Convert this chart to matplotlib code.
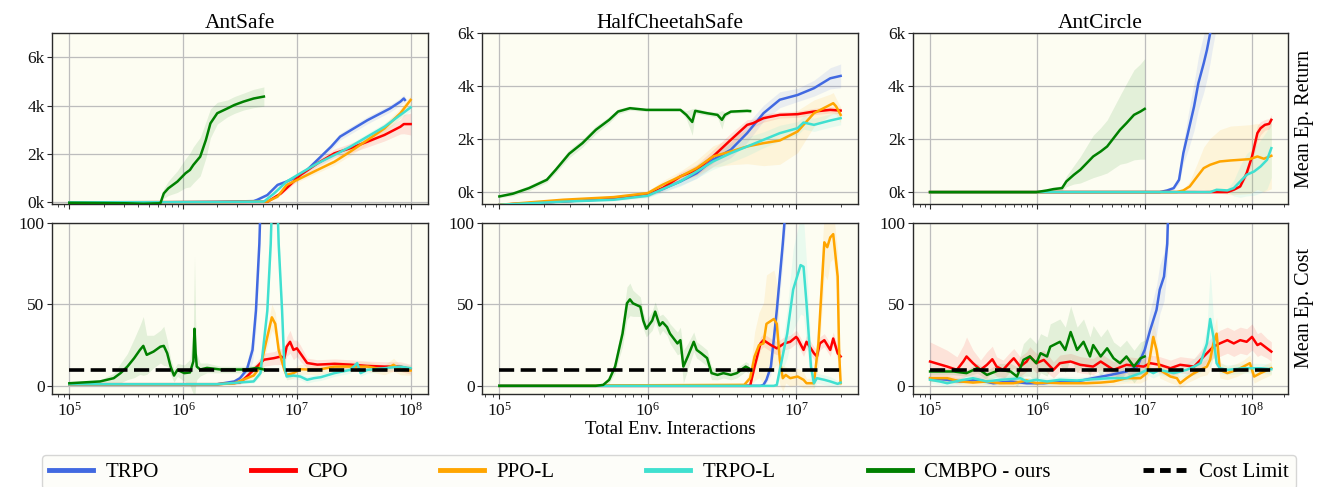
import sys
import numpy as np
import matplotlib
matplotlib.use("Agg")
import matplotlib.pyplot as plt
from matplotlib.ticker import FixedLocator, FuncFormatter, NullFormatter
from matplotlib.lines import Line2D

# ---------------- data (x given as log10 of env. interactions) ----------------
envs = ["AntSafe", "HalfCheetahSafe", "AntCircle"]
methods = ["TRPO", "CPO", "PPO-L", "TRPO-L", "CMBPO - ours"]
cost_limit = 10
x_end = [8.0, 7.3, 8.18]

# AntSafe - return
as_ret_trpo_lx = [5.0, 5.8, 6.3, 6.62, 6.65, 6.74, 6.83, 6.91, 7.0, 7.09, 7.21, 7.3, 7.38, 7.5, 7.62, 7.71, 7.82, 7.91, 7.94, 7.95]
as_ret_trpo_y = [0, 0, 20, 50, 100, 300, 720, 860, 1060, 1340, 1890, 2300, 2720, 3060, 3400, 3620, 3890, 4170, 4300, 4240]
as_ret_trpo_sd = [0, 0, 10, 20, 30, 50, 80, 90, 100, 110, 120, 130, 140, 150, 150, 150, 150, 150, 150, 150]
as_ret_cpo_lx = [5.0, 6.3, 6.74, 6.86, 6.94, 7.03, 7.18, 7.33, 7.47, 7.62, 7.77, 7.91, 7.94, 8.0]
as_ret_cpo_y = [0, 10, 20, 370, 720, 1130, 1610, 2030, 2240, 2510, 2790, 3130, 3240, 3240]
as_ret_cpo_sd = [0, 5, 10, 60, 100, 120, 150, 180, 200, 220, 250, 300, 400, 450]
as_ret_ppol_lx = [5.0, 6.3, 6.74, 6.83, 6.91, 7.03, 7.18, 7.33, 7.47, 7.62, 7.77, 7.91, 8.0]
as_ret_ppol_y = [0, 10, 30, 235, 720, 990, 1340, 1680, 2100, 2580, 3060, 3690, 4240]
as_ret_ppol_sd = [0, 5, 10, 50, 80, 100, 120, 140, 160, 180, 200, 200, 200]
as_ret_trpol_lx = [5.0, 6.3, 6.71, 6.8, 6.91, 7.03, 7.18, 7.33, 7.47, 7.62, 7.77, 7.91, 8.0]
as_ret_trpol_y = [0, 10, 30, 370, 860, 1200, 1610, 1960, 2300, 2720, 3130, 3620, 3930]
as_ret_trpol_sd = [0, 5, 10, 50, 80, 100, 110, 120, 130, 140, 150, 150, 150]
as_ret_cmbpo_lx = [5.0, 5.3, 5.5, 5.65, 5.8, 5.83, 5.87, 5.95, 6.02, 6.06, 6.09, 6.15, 6.2, 6.24, 6.3, 6.39, 6.45, 6.53, 6.62, 6.71]
as_ret_cmbpo_y = [-20, -30, -40, -60, -40, 370, 580, 860, 1200, 1340, 1550, 1890, 2580, 3270, 3690, 3890, 4030, 4170, 4300, 4380]
as_ret_cmbpo_sd = [0, 0, 0, 0, 40, 200, 300, 450, 600, 700, 750, 800, 750, 600, 450, 350, 350, 350, 380, 400]

# AntSafe - cost
as_cost_trpo_lx = [5.0, 6.3, 6.45, 6.5, 6.56, 6.61, 6.64, 6.67, 6.68, 6.7, 7.95]
as_cost_trpo_y = [1, 1, 2.7, 4.7, 9.8, 22, 46, 87, 110, 150, 150]
as_cost_trpo_sd = [0, 0.3, 1, 2, 4, 8, 12, 15, 15, 15, 15]
as_cost_cpo_lx = [5.0, 6.3, 6.5, 6.56, 6.65, 6.71, 6.8, 6.86, 6.89, 6.91, 6.94, 6.97, 7.0, 7.03, 7.06, 7.09, 7.18, 7.33, 7.47, 7.62, 7.77, 7.91, 8.0]
as_cost_cpo_y = [1, 1, 2, 5.7, 11.8, 16, 17, 18, 17, 24, 27, 22, 23, 20, 17, 14, 13, 13.5, 13, 12.2, 11.8, 11.8, 10.2]
as_cost_cpo_sd = [0, 0.3, 1, 2, 3, 4, 4, 5, 5, 6, 7, 6, 5, 5, 4, 3, 3, 3, 3, 3, 3, 3, 3]
as_cost_ppol_lx = [5.0, 6.3, 6.45, 6.56, 6.62, 6.68, 6.74, 6.78, 6.81, 6.84, 6.89, 6.91, 6.97, 7.03, 7.18, 7.33, 7.47, 7.62, 7.77, 7.85, 7.91, 8.0]
as_cost_ppol_y = [1, 1, 1.5, 4.7, 6.3, 11.8, 30, 42, 38, 22, 9.8, 6.7, 7.8, 10.2, 9.8, 11.8, 11.8, 11.8, 9.8, 12.9, 9.8, 9.4]
as_cost_ppol_sd = [0, 0.3, 1, 2, 3, 5, 6, 8, 7, 5, 3, 3, 3, 3, 3, 3, 3, 3, 3, 4, 3, 3]
as_cost_trpol_lx = [5.0, 6.3, 6.62, 6.68, 6.74, 6.77, 6.78, 6.83, 6.84, 6.87, 6.89, 6.91, 6.97, 7.03, 7.09, 7.15, 7.21, 7.33, 7.47, 7.53, 7.56, 7.62, 7.77, 7.91, 8.0]
as_cost_trpol_y = [1, 1, 2.7, 7.8, 46, 87, 110, 110, 87, 46, 11.8, 5.7, 6.3, 5.7, 3.7, 4.7, 5.3, 7.8, 9.8, 13.9, 7.8, 9.8, 10.8, 11.8, 10.8]
as_cost_trpol_sd = [0, 0.3, 1, 2, 5, 8, 8, 8, 8, 5, 3, 2, 2, 2, 2, 2, 2, 2, 2, 2, 2, 2, 2, 2, 2]
as_cost_cmbpo_lx = [5.0, 5.27, 5.39, 5.45, 5.51, 5.57, 5.62, 5.65, 5.68, 5.74, 5.8, 5.83, 5.86, 5.89, 5.92, 5.95, 6.01, 6.06, 6.09, 6.1, 6.11, 6.12, 6.15, 6.21, 6.33, 6.45, 6.56, 6.65, 6.71]
as_cost_cmbpo_y = [1.6, 2.7, 4.7, 7.8, 11.8, 17, 22, 24.5, 19, 21, 24, 24.5, 20, 11.8, 6.3, 9.8, 7.8, 8.2, 15, 35, 20, 11.8, 10, 11, 10, 10, 10, 11, 10]
as_cost_cmbpo_sd = [0.5, 1, 3, 6, 8, 12, 15, 18, 12, 10, 10, 12, 8, 5, 4, 4, 5, 8, 20, 45, 20, 8, 4, 3, 2, 2, 2, 2, 2]

# HalfCheetahSafe - return
hc_ret_trpo_lx = [5.0, 5.43, 5.77, 6.0, 6.1, 6.22, 6.33, 6.44, 6.56, 6.67, 6.78, 6.89, 7.01, 7.12, 7.23, 7.3]
hc_ret_trpo_y = [-480, -350, -260, -100, 113, 403, 717, 1220, 1600, 2230, 2980, 3490, 3670, 3925, 4300, 4390]
hc_ret_trpo_sd = [20, 30, 50, 80, 100, 150, 200, 250, 300, 350, 300, 300, 250, 300, 400, 450]
hc_ret_cpo_lx = [5.0, 5.43, 5.77, 6.0, 6.1, 6.22, 6.33, 6.44, 6.56, 6.67, 6.71, 6.78, 6.89, 7.01, 7.12, 7.23, 7.3]
hc_ret_cpo_y = [-480, -350, -240, -100, 151, 591, 843, 1346, 1975, 2541, 2604, 2793, 2918, 2944, 3044, 3107, 3080]
hc_ret_cpo_sd = [20, 30, 50, 80, 100, 150, 200, 250, 250, 200, 150, 150, 120, 120, 120, 120, 120]
hc_ret_ppol_lx = [5.0, 5.43, 5.77, 6.0, 6.1, 6.22, 6.33, 6.44, 6.56, 6.67, 6.78, 6.89, 7.01, 7.12, 7.23, 7.25, 7.27, 7.3]
hc_ret_ppol_y = [-480, -289, -189, -38, 277, 591, 906, 1346, 1535, 1723, 1849, 1950, 2290, 2981, 3300, 3359, 3233, 2918]
hc_ret_ppol_sd = [20, 30, 50, 80, 150, 200, 300, 400, 500, 650, 850, 900, 800, 500, 400, 400, 300, 300]
hc_ret_trpol_lx = [5.0, 5.43, 5.77, 6.0, 6.1, 6.22, 6.33, 6.44, 6.56, 6.67, 6.78, 6.89, 7.01, 7.05, 7.12, 7.23, 7.3]
hc_ret_trpol_y = [-480, -360, -290, -138, 113, 403, 780, 1157, 1472, 1723, 1975, 2227, 2415, 2629, 2541, 2705, 2793]
hc_ret_trpol_sd = [20, 30, 50, 80, 120, 180, 250, 300, 350, 350, 300, 300, 250, 250, 250, 250, 250]
hc_ret_cmbpo_lx = [5.0, 5.09, 5.2, 5.32, 5.38, 5.47, 5.56, 5.65, 5.74, 5.8, 5.88, 5.99, 6.1, 6.22, 6.26, 6.3, 6.32, 6.4, 6.47, 6.5, 6.52, 6.56, 6.67, 6.69]
hc_ret_cmbpo_y = [-164, -63, 151, 465, 843, 1447, 1849, 2352, 2730, 3044, 3170, 3107, 3107, 3107, 2918, 2650, 3070, 2981, 2918, 2730, 2918, 3040, 3070, 3060]
hc_ret_cmbpo_sd = [50, 80, 100, 100, 120, 150, 150, 150, 120, 100, 80, 60, 60, 60, 150, 500, 100, 80, 100, 350, 100, 60, 60, 60]

# HalfCheetahSafe - cost
hc_cost_trpo_lx = [5.0, 6.76, 6.78, 6.8, 6.83, 6.87, 6.91, 6.93, 6.96, 7.3]
hc_cost_trpo_y = [0, 0, 0.6, 3.7, 11.8, 46.5, 87, 110, 150, 150]
hc_cost_trpo_sd = [0, 0, 0.5, 2, 5, 10, 12, 12, 12, 12]
hc_cost_cpo_lx = [5.0, 6.69, 6.72, 6.76, 6.78, 6.83, 6.87, 6.92, 6.96, 7.0, 7.01, 7.05, 7.07, 7.12, 7.14, 7.16, 7.19, 7.23, 7.25, 7.28, 7.3]
hc_cost_cpo_y = [0, 0, 11.8, 26, 28, 25, 23, 26, 27, 30, 29, 22, 27, 20, 18, 26, 28, 22, 29, 20, 18]
hc_cost_cpo_sd = [0, 0, 3, 4, 4, 4, 4, 4, 4, 4, 4, 4, 4, 4, 4, 4, 4, 4, 4, 4, 4]
hc_cost_ppol_lx = [5.0, 6.65, 6.69, 6.72, 6.75, 6.78, 6.8, 6.85, 6.87, 6.89, 6.91, 6.93, 6.96, 7.01, 7.05, 7.07, 7.12, 7.15, 7.19, 7.21, 7.23, 7.25, 7.28, 7.29, 7.3]
hc_cost_ppol_y = [0, 0.6, 4.7, 18, 25, 26, 38, 41, 38, 16, 4.7, 6.7, 4.7, 5.7, 3.7, 1.6, 1.6, 26, 88, 85, 91, 93, 67, 20, 1.6]
hc_cost_ppol_sd = [0, 1, 5, 15, 20, 25, 30, 30, 25, 15, 8, 5, 5, 5, 5, 3, 3, 15, 20, 20, 15, 15, 15, 10, 5]
hc_cost_trpol_lx = [5.0, 6.85, 6.87, 6.89, 6.94, 6.98, 7.03, 7.05, 7.07, 7.1, 7.12, 7.14, 7.19, 7.23, 7.28, 7.3]
hc_cost_trpol_y = [0, 0, 0.6, 9.8, 32, 59, 74, 73, 50.6, 11.8, 1.6, 4.7, 3.7, 2.7, 1.2, 2]
hc_cost_trpol_sd = [0, 0, 1, 5, 15, 25, 30, 30, 25, 10, 3, 3, 3, 3, 2, 2]
hc_cost_cmbpo_lx = [5.0, 5.65, 5.7, 5.74, 5.78, 5.81, 5.83, 5.86, 5.88, 5.9, 5.95, 5.97, 5.99, 6.03, 6.05, 6.08, 6.1, 6.13, 6.15, 6.2, 6.22, 6.24, 6.27, 6.31, 6.33, 6.36, 6.4, 6.43, 6.47, 6.51, 6.56, 6.6, 6.66, 6.68]
hc_cost_cmbpo_y = [0, 0, 0.6, 3.7, 11.8, 24, 32, 50.6, 53, 50.6, 48.5, 40, 35, 40, 45.5, 37, 39, 36, 32, 26, 28, 11.8, 18, 27, 22, 20, 17, 7.8, 6.7, 7.8, 6.7, 7.8, 11.8, 10.8]
hc_cost_cmbpo_sd = [0, 0, 0.5, 2, 4, 6, 8, 10, 10, 8, 6, 5, 5, 6, 6, 6, 5, 5, 6, 7, 8, 10, 8, 6, 5, 5, 5, 4, 3, 3, 3, 3, 3, 3]

# AntCircle - return
ac_ret_trpo_lx = [5.0, 7.14, 7.21, 7.27, 7.32, 7.36, 7.41, 7.46, 7.5, 7.55, 7.58, 7.61, 7.63, 7.7]
ac_ret_trpo_y = [0, 0, 63, 151, 465, 1472, 2352, 3233, 4114, 4868, 5372, 6000, 6500, 8000]
ac_ret_trpo_sd = [0, 0, 30, 60, 150, 400, 700, 900, 1000, 1100, 1100, 1100, 1100, 1100]
ac_ret_cpo_lx = [5.0, 7.77, 7.83, 7.89, 7.95, 8.0, 8.05, 8.08, 8.12, 8.16, 8.18]
ac_ret_cpo_y = [0, 0, 88, 214, 717, 1346, 2227, 2415, 2541, 2579, 2730]
ac_ret_cpo_sd = [0, 0, 20, 50, 150, 250, 300, 250, 200, 200, 200]
ac_ret_ppol_lx = [5.0, 7.3, 7.36, 7.42, 7.49, 7.55, 7.61, 7.7, 7.8, 7.89, 7.98, 8.05, 8.11, 8.18]
ac_ret_ppol_y = [0, 0, 63, 214, 591, 906, 1032, 1157, 1195, 1220, 1245, 1346, 1260, 1371]
ac_ret_ppol_sd = [0, 0, 50, 200, 500, 800, 1000, 1200, 1300, 1300, 1300, 1250, 1250, 1250]
ac_ret_trpol_lx = [5.0, 7.61, 7.67, 7.77, 7.83, 7.89, 7.95, 8.02, 8.08, 8.14, 8.18]
ac_ret_trpol_y = [0, 0, 88, 63, 151, 403, 654, 780, 969, 1220, 1660]
ac_ret_trpol_sd = [0, 0, 20, 50, 300, 600, 800, 900, 1000, 1100, 1100]
ac_ret_cmbpo_lx = [5.0, 5.99, 6.09, 6.15, 6.23, 6.27, 6.34, 6.4, 6.46, 6.52, 6.59, 6.65, 6.71, 6.77, 6.83, 6.9, 6.96, 7.0]
ac_ret_cmbpo_y = [0, 0, 63, 113, 151, 403, 654, 843, 1094, 1346, 1535, 1723, 2038, 2352, 2604, 2918, 3044, 3145]
ac_ret_cmbpo_sd = [0, 0, 30, 60, 100, 200, 350, 500, 650, 800, 900, 1000, 1150, 1300, 1500, 1700, 1800, 1900]

# AntCircle - cost
ac_cost_trpo_lx = [5.0, 5.16, 5.28, 5.44, 5.59, 5.75, 5.9, 6.06, 6.21, 6.37, 6.52, 6.68, 6.83, 6.93, 7.0, 7.05, 7.11, 7.14, 7.18, 7.21, 7.22, 7.3, 7.63]
ac_cost_trpo_y = [4.7, 3.7, 2.7, 3.7, 1.6, 2.7, 1.6, 1.6, 2.7, 2.7, 4.7, 6.7, 8.8, 11.8, 22, 34, 46.5, 59, 67, 87, 110, 150, 150]
ac_cost_trpo_sd = [1, 1, 1, 1, 1, 1, 1, 1, 1, 1, 2, 2, 3, 4, 8, 12, 15, 15, 15, 15, 15, 15, 15]
ac_cost_cpo_lx = [5.0, 5.16, 5.25, 5.31, 5.34, 5.4, 5.47, 5.53, 5.58, 5.62, 5.68, 5.75, 5.78, 5.84, 5.9, 5.93, 5.99, 6.06, 6.15, 6.21, 6.31, 6.4, 6.52, 6.59, 6.71, 6.83, 6.99, 7.05, 7.14, 7.24, 7.33, 7.46, 7.55, 7.64, 7.7, 7.77, 7.83, 7.89, 7.95, 8.0, 8.05, 8.08, 8.14, 8.18]
ac_cost_cpo_y = [14.9, 11.8, 9.8, 14.9, 18, 13.9, 9.8, 12.9, 16.3, 11.8, 9.8, 14.9, 16.9, 11.8, 14.9, 18, 13.9, 15.9, 9.8, 13.9, 14.9, 12.9, 11.8, 14.9, 9.8, 12.9, 11.8, 13.9, 12.9, 10.8, 12.9, 11.8, 18, 24, 26, 28, 26, 28, 27, 30, 25, 26, 23, 21]
ac_cost_cpo_sd = [12, 10, 8, 10, 12, 8, 6, 8, 8, 6, 6, 6, 6, 6, 6, 6, 6, 6, 5, 5, 5, 5, 5, 5, 5, 5, 5, 5, 5, 5, 5, 5, 6, 7, 8, 8, 8, 8, 8, 8, 7, 7, 6, 6]
ac_cost_ppol_lx = [5.0, 5.16, 5.28, 5.4, 5.53, 5.65, 5.78, 5.9, 5.99, 6.09, 6.21, 6.34, 6.46, 6.59, 6.71, 6.83, 6.96, 7.02, 7.05, 7.08, 7.11, 7.14, 7.24, 7.3, 7.33, 7.39, 7.46, 7.52, 7.58, 7.61, 7.64, 7.67, 7.7, 7.77, 7.86, 7.92, 7.98, 8.02, 8.08, 8.18]
ac_cost_ppol_y = [4.7, 4.7, 2.7, 2, 2.7, 1.6, 1.6, 3.3, 1.6, 2, 1.6, 1.6, 1.6, 2, 2.7, 4.7, 4.7, 7.8, 18, 30, 22, 9.8, 5.7, 4.7, 1.6, 4.7, 7.8, 9.8, 11.8, 16, 26, 32, 9.8, 7.8, 9.8, 11.8, 13.9, 5.7, 7.8, 10.8]
ac_cost_ppol_sd = [2, 2, 2, 2, 2, 2, 2, 2, 2, 2, 2, 2, 2, 2, 2, 3, 3, 4, 8, 10, 8, 5, 4, 4, 3, 3, 4, 4, 5, 6, 8, 10, 5, 4, 4, 4, 5, 4, 4, 4]
ac_cost_trpol_lx = [5.0, 5.09, 5.16, 5.28, 5.4, 5.53, 5.65, 5.75, 5.84, 5.9, 5.99, 6.09, 6.21, 6.37, 6.52, 6.68, 6.83, 6.96, 7.02, 7.08, 7.14, 7.27, 7.39, 7.46, 7.52, 7.58, 7.61, 7.64, 7.67, 7.7, 7.77, 7.92, 8.08, 8.18]
ac_cost_trpol_y = [3.7, 2.7, 1.6, 3.3, 4.7, 2.7, 3.7, 4.1, 4.7, 2.7, 3.7, 2.7, 3.7, 3.3, 4.1, 4.7, 4.7, 7.8, 9.8, 7.8, 9.8, 7.8, 9.8, 11.8, 13.9, 26, 41, 30, 13.9, 10.8, 9.8, 10.8, 10.8, 10.2]
ac_cost_trpol_sd = [2, 2, 2, 2, 2, 2, 2, 2, 2, 2, 2, 2, 2, 2, 2, 2, 2, 3, 3, 3, 3, 3, 4, 5, 6, 10, 30, 12, 4, 3, 3, 3, 3, 3]
ac_cost_cmbpo_lx = [5.0, 5.22, 5.34, 5.44, 5.53, 5.65, 5.75, 5.81, 5.87, 5.93, 5.99, 6.03, 6.09, 6.12, 6.21, 6.26, 6.31, 6.37, 6.43, 6.49, 6.52, 6.59, 6.65, 6.71, 6.77, 6.83, 6.9, 6.96, 7.0]
ac_cost_cmbpo_y = [8.8, 8.8, 7.8, 10.8, 6.7, 9.8, 8.8, 5.7, 15.9, 18, 13.9, 20, 18, 24, 27, 22, 33, 22, 27, 18, 25, 18, 23, 16.9, 13.9, 18, 11.8, 16.9, 18]
ac_cost_cmbpo_sd = [2, 2, 2, 3, 3, 4, 5, 6, 10, 12, 12, 12, 12, 14, 14, 14, 16, 14, 14, 12, 12, 12, 12, 10, 10, 10, 10, 10, 10]

# ---------------- assemble ----------------
g = globals()
prefixes = ["as", "hc", "ac"]
keys = ["trpo", "cpo", "ppol", "trpol", "cmbpo"]
colors = ["#4169E1", "#FF0000", "#FFA500", "#40E0D0", "#008000"]

def series(pre, metric, key):
    lx = np.asarray(g[f"{pre}_{metric}_{key}_lx"], float)
    y = np.asarray(g[f"{pre}_{metric}_{key}_y"], float)
    sd = np.asarray(g[f"{pre}_{metric}_{key}_sd"], float)
    n = min(len(lx), len(y), len(sd))
    if not (len(lx) == len(y) == len(sd)):
        print("length mismatch", pre, metric, key, len(lx), len(y), len(sd), file=sys.stderr)
    return 10 ** lx[:n], y[:n], sd[:n]

# ---------------- style ----------------
plt.rcParams["font.family"] = ["Liberation Serif", "DejaVu Serif"]
plt.rcParams["mathtext.fontset"] = "cm"
BG = "#fdfdf2"
SPINE = "#2a2a2a"

W, H = 1320, 487
fig = plt.figure(figsize=(W / 100, H / 100), dpi=100)
lefts = [52.3, 482.3, 913.0]
aw = 375.4

ret_ylims = [(-70, 7000), (-450, 6000), (-450, 6000)]

for c, env in enumerate(envs):
    pre = prefixes[c]
    l = lefts[c] / W
    ax_t = fig.add_axes([l, 1 - 204.0 / H, aw / W, 170.7 / H])
    ax_b = fig.add_axes([l, 1 - 394.0 / H, aw / W, 171.3 / H], sharex=ax_t)
    for metric, ax in (("ret", ax_t), ("cost", ax_b)):
        ax.set_facecolor(BG)
        ax.set_xscale("log")
        for k, key in enumerate(keys):
            x, y, sd = series(pre, metric, key)
            ax.fill_between(x, y - sd, y + sd, color=colors[k], alpha=0.1, lw=0, zorder=2)
        for k, key in enumerate(keys):
            x, y, sd = series(pre, metric, key)
            ax.plot(x, y, color=colors[k], lw=1.8, zorder=3, solid_joinstyle="round")
        if metric == "cost":
            ax.plot([10 ** 5.0, 10 ** x_end[c]], [cost_limit, cost_limit], color="black",
                    lw=2.6, dashes=(4.2, 1.8), zorder=4)
        span = x_end[c] - 5.0
        ax.set_xlim(10 ** (5.0 - 0.05 * span), 10 ** (x_end[c] + 0.05 * span))
        ax.grid(True, which="major", color="#bdbdbd", lw=0.9, zorder=0)
        ax.set_axisbelow(True)
        for s in ax.spines.values():
            s.set_color(SPINE)
            s.set_linewidth(1.0)
        ax.tick_params(axis="both", which="major", direction="out", length=3.5, width=0.8,
                       labelsize=12.5, colors=SPINE, labelcolor="#111111", pad=2)
        ax.tick_params(axis="x", which="minor", direction="out", length=2, width=0.6, colors=SPINE)
        ax.xaxis.set_minor_formatter(NullFormatter())
    ax_t.set_ylim(*ret_ylims[c])
    ax_t.yaxis.set_major_locator(FixedLocator([0, 2000, 4000, 6000]))
    ax_t.yaxis.set_major_formatter(FuncFormatter(lambda v, p: f"{v / 1000:.0f}k"))
    ax_t.tick_params(axis="x", labelbottom=False)
    ax_b.set_ylim(-5, 100)
    ax_b.yaxis.set_major_locator(FixedLocator([0, 50, 100]))
    ax_t.set_title(env, fontsize=15.5, pad=4)
    if c == 1:
        ax_b.set_xlabel("Total Env. Interactions", fontsize=13.5, labelpad=1)
    if c == 2:
        ax_t.yaxis.set_label_position("right")
        ax_t.set_ylabel("Mean Ep. Return", fontsize=14.5, labelpad=5)
        ax_b.yaxis.set_label_position("right")
        ax_b.set_ylabel("Mean Ep. Cost", fontsize=14.5, labelpad=5)

handles = [Line2D([], [], color=col, lw=3.5) for col in colors]
handles.append(Line2D([], [], color="black", lw=3.5, dashes=(2.2, 1.2)))
labels = methods + ["Cost Limit"]
leg = fig.legend(handles, labels, loc="upper left", ncol=6, mode="expand",
                 bbox_to_anchor=(42 / W, 1 - 455 / H, (1296 - 42) / W, 0.0001),
                 fontsize=15, handlelength=2.1, handletextpad=0.6, borderpad=0.35,
                 borderaxespad=0, frameon=True, fancybox=True)
leg.get_frame().set_facecolor("#fdfdf8")
leg.get_frame().set_edgecolor("#cccccc")
leg.get_frame().set_linewidth(1.0)

fig.savefig("out.png", dpi=100, facecolor="white")
